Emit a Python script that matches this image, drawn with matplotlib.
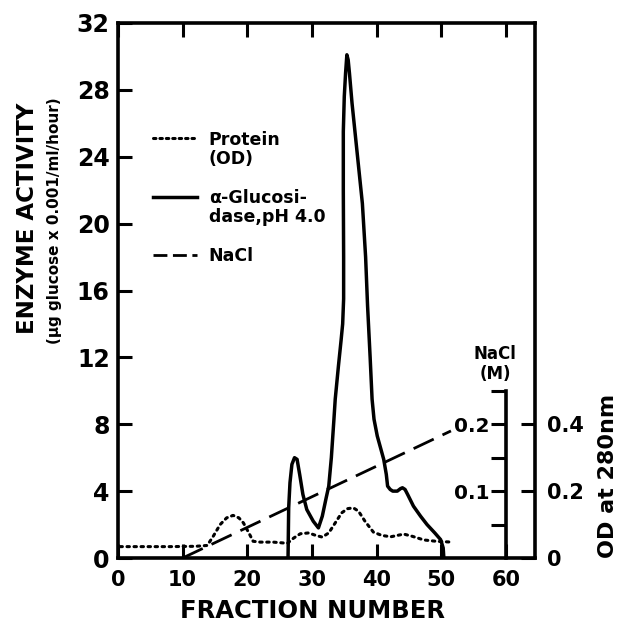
import matplotlib
matplotlib.use("Agg")
import matplotlib.pyplot as plt
from matplotlib.lines import Line2D

# ---------------- data ----------------
enz_x = [26.3, 26.4, 26.6, 26.9, 27.3, 27.7, 28.1, 28.6, 29.2, 30.2, 31.0, 31.6, 32.2,
         32.6, 33.0, 33.4, 33.6, 34.1, 34.5, 34.75, 34.9, 34.9, 34.85, 34.85, 35.0, 35.2,
         35.4, 35.6, 35.8, 36.2, 37.0, 37.8, 38.3, 38.6, 39.0, 39.3, 39.6, 40.1, 40.6,
         41.1, 41.5, 41.7, 42.1, 42.5, 43.2, 43.7, 44.0, 44.4, 44.8, 45.7, 46.8,
         47.8, 49.0, 49.9, 50.3, 50.4]
enz_y = [0.0, 3.0, 4.5, 5.6, 6.0, 5.9, 5.0, 3.8, 2.9, 2.2, 1.8, 2.5, 3.6,
         4.3, 6.0, 8.3, 9.5, 11.5, 13.0, 14.0, 15.5, 18.0, 22.0, 25.5, 27.6, 29.0,
         30.1, 29.8, 29.0, 27.2, 24.2, 21.2, 18.0, 15.1, 12.0, 9.5, 8.3, 7.3, 6.6,
         5.9, 5.0, 4.3, 4.1, 4.0, 4.0, 4.15, 4.2, 4.1, 3.8, 3.1, 2.5,
         2.0, 1.5, 1.1, 0.6, 0.0]

prot_x = [0.3, 4, 8, 12, 13.8, 14.7, 15.8, 16.8, 17.8, 18.7, 19.4, 20.4, 20.9, 22, 24,
          26.2, 27.2, 28.2, 29.5, 30.6, 31.6, 32.6, 33.6, 34.6, 35.5, 36.4, 37.2, 38.2,
          39.5, 40.8, 42.2, 43.2, 44.2, 45.5, 47.3, 49.2, 51.2]
prot_od = [0.034, 0.034, 0.034, 0.035, 0.0375, 0.064, 0.10, 0.12, 0.1275, 0.12, 0.105,
           0.069, 0.05, 0.0475, 0.0475, 0.044, 0.06, 0.0725, 0.075, 0.0675, 0.0625,
           0.075, 0.105, 0.135, 0.1475, 0.15, 0.14, 0.11, 0.0775, 0.0675, 0.0635,
           0.0675, 0.0715, 0.065, 0.054, 0.05, 0.048]

nacl_x = [10, 51.5]
nacl_m = [0.0, 0.19]

x_ticks = [0, 10, 20, 30, 40, 50, 60]
y_ticks = [0, 4, 8, 12, 16, 20, 24, 28, 32]
od_ticks = [0, 0.2, 0.4]
od_labels = ["0", "0.2", "0.4"]
nacl_ticks = [0.05, 0.1, 0.15, 0.2, 0.25]
nacl_labels = ["", "0.1", "", "0.2", ""]

# ---------------- figure ----------------
plt.rcParams['font.family'] = ['DejaVu Sans']
plt.rcParams['font.weight'] = 'bold'
fig = plt.figure(figsize=(6.22, 6.23), dpi=100)
L, R, B, T = 118/622, 535/622, 1-558/623, 1-23/623
ax = fig.add_axes([L, B, R-L, T-B])
ax2 = ax.twinx()   # OD axis
ax3 = ax.twinx()   # NaCl axis

lw_sp = 2.6
for s in ax.spines.values():
    s.set_linewidth(lw_sp)
for a in (ax2, ax3):
    for s in a.spines.values():
        s.set_visible(False)

ax.set_xlim(0, 64.5)
ax.set_ylim(0, 32)
ax2.set_ylim(0, 1.6)
ax3.set_ylim(0, 0.8)

# main axis ticks
ax.set_xticks(x_ticks)
ax.set_xticklabels([str(t) for t in x_ticks])
ax.set_yticks(y_ticks)
ax.set_yticklabels([str(t) for t in y_ticks])
ax.tick_params(axis='x', direction='in', length=10, width=2.2, top=True, labeltop=False,
               labelsize=15, pad=9)
ax.tick_params(axis='y', direction='in', length=10, width=2.2, right=False,
               labelsize=17, pad=6)

# OD axis (right spine)
ax2.set_yticks(od_ticks)
ax2.set_yticklabels(od_labels)
ax2.tick_params(axis='y', direction='in', length=10, width=2.2, labelsize=15, pad=9)

# NaCl axis drawn at fraction 60
ax3.spines['left'].set_visible(True)
ax3.spines['left'].set_position(('data', 60))
ax3.spines['left'].set_bounds(0, 0.25)
ax3.spines['left'].set_linewidth(lw_sp)
ax3.yaxis.set_ticks_position('left')
ax3.yaxis.set_label_position('left')
ax3.set_yticks(nacl_ticks)
ax3.set_yticklabels(nacl_labels)
ax3.tick_params(axis='y', direction='out', length=11, width=2.2, labelsize=14.5, pad=1)

# data
ax.plot(enz_x, enz_y, color='black', lw=2.5, solid_joinstyle='round')
ax2.plot(prot_x, prot_od, color='black', lw=2.2, linestyle=(0, (0.8, 1.5)),
         dash_capstyle='round')
ax3.plot(nacl_x, nacl_m, color='black', lw=2.0, linestyle=(0, (8, 3.5)))

# labels
fig.text(608/622, 1-476/623, "OD at 280nm", rotation=90, ha='center', va='center',
         fontsize=16)
fig.text(495/622, 1-364/623, "NaCl\n(M)", ha='center', va='center', fontsize=12,
         linespacing=1.1)
fig.text(28/622, 1-218/623, "ENZYME ACTIVITY", rotation=90, ha='center', va='center',
         fontsize=16.5)
fig.text(54/622, 1-221/623, "(μg glucose x 0.001/ml/hour)", rotation=90, ha='center',
         va='center', fontsize=11)
fig.text(312/622, 1-611/623, "FRACTION NUMBER", ha='center', va='center', fontsize=17.5)

# legend (multi-line entries split into rows)
blank = Line2D([], [], linestyle='none')
handles = [Line2D([], [], color='black', lw=2.2, linestyle=(0, (0.8, 1.3)), dash_capstyle='round'),
           blank, blank,
           Line2D([], [], color='black', lw=2.5),
           blank, blank,
           Line2D([], [], color='black', lw=2.0, linestyle=(0, (5, 2)))]
labels = ["Protein", "(OD)", "", "α-Glucosi-", "dase,pH 4.0", "", "NaCl"]
ax.legend(handles, labels, loc='upper left', bbox_to_anchor=(0.068, 0.812),
          frameon=False, handlelength=2.5, handletextpad=0.7,
          labelspacing=0.08, borderaxespad=0, prop={'weight': 'bold', 'size': 12.5})

fig.savefig("out.png", dpi=100)
